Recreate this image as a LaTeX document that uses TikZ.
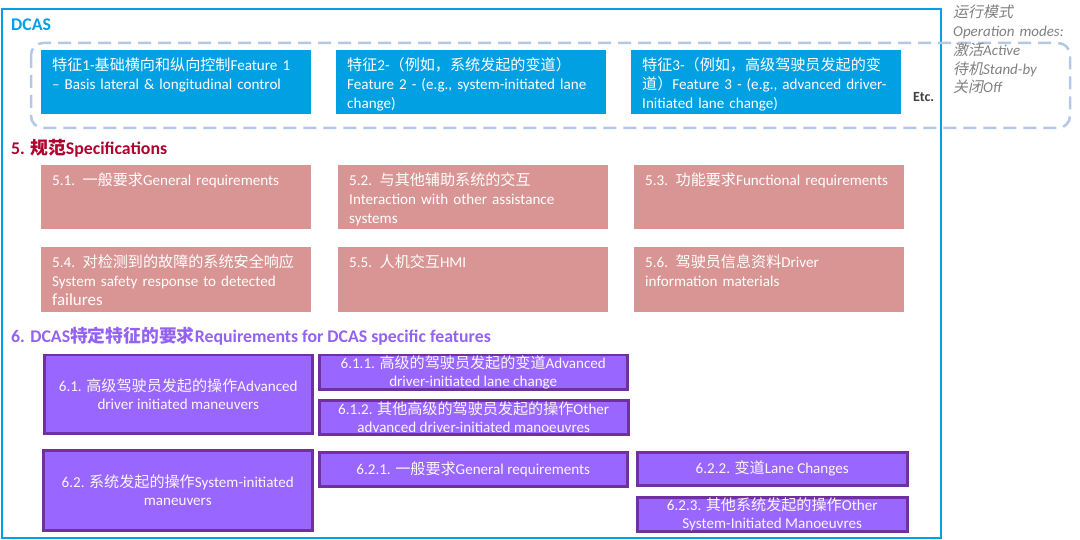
\documentclass[tikz,border=0pt]{standalone}
\usepackage{fontspec}
\setmainfont{Carlito}
\newfontfamily\cjk[AutoFakeSlant=0.2]{Noto Sans CJK SC}
\newcommand{\zh}[1]{{\cjk #1}}
\usepackage{xcolor}
\usetikzlibrary{
    positioning,
    calc
}
\definecolor{DcasBlue}{HTML}{00A0E2}
\definecolor{FrameGray}{HTML}{B4C7E7}
\definecolor{SpecRose}{HTML}{D99594}
\definecolor{SpecRed}{HTML}{B0002D}
\definecolor{ReqViolet}{HTML}{9966FF}
\definecolor{ReqBorder}{HTML}{7030A0}
\definecolor{HeadViolet}{HTML}{9362F0}
\definecolor{ModeGray}{HTML}{808080}
\definecolor{EtcGray}{HTML}{404040}

\tikzset{
    heading/.style={anchor=base west, inner sep=0pt, font=\fontsize{17.8}{20}\selectfont\bfseries},
    featbox/.style={fill=DcasBlue, anchor=north west, inner sep=0pt,
        minimum width=270pt, minimum height=64pt},
    specbox/.style={fill=SpecRose, anchor=north west, inner sep=0pt,
        minimum width=270pt, minimum height=64pt},
    boxtext/.style={anchor=base west, inner sep=0pt, text width=262pt,
        align=left, text=white, font=\fontsize{15.1}{18.7}\selectfont},
    reqbox/.style={draw=ReqBorder, line width=2.5pt, fill=ReqViolet,
        anchor=north west, inner sep=0pt, align=center,
        text=white!95!ReqViolet, font=\fontsize{15.1}{17.5}\selectfont}
}

\begin{document}
\begin{tikzpicture}[x=1pt, y=-1pt]
    \useasboundingbox (0,0) rectangle (1080,540);

    % outer DCAS frame and operation modes frame
    \draw[DcasBlue, line width=2pt] (2,9) rectangle (941,538);
    \draw[FrameGray, line width=2.5pt, dash pattern=on 13pt off 7pt,
        rounded corners=12pt] (31,43) rectangle (1070,128);

    \node[heading, text=DcasBlue] (dcas) at (11,31) {DCAS};

    % features
    \node[featbox] (feat1) at (41,50) {};
    \node[featbox] (feat2) at (336,50) {};
    \node[featbox] (feat3) at (631,50) {};
    \node[boxtext] (feat1txt) at ([shift={(11pt,-21pt)}]feat1.north west)
        {\zh{特征}1-\zh{基础横向和纵向控制}Feature 1\\
         – Basis lateral \& longitudinal control};
    \node[boxtext] (feat2txt) at ([shift={(11pt,-21pt)}]feat2.north west)
        {\zh{特征}2-\zh{（例如，系统发起的变道）}\\
         Feature 2 - (e.g., system-initiated lane\\
         change)};
    \node[boxtext] (feat3txt) at ([shift={(11pt,-21pt)}]feat3.north west)
        {\zh{特征}3-\zh{（例如，高级驾驶员发起的变}\\
         \zh{道）}Feature 3 - (e.g., advanced driver-\\
         Initiated lane change)};
    \node[anchor=base west, inner sep=0pt, text=EtcGray,
        font=\fontsize{14}{16}\selectfont\bfseries] (etc) at (913,102) {Etc.};

    \node[anchor=base west, inner sep=0pt, text width=130pt, align=left,
        text=ModeGray, font=\fontsize{15}{18.7}\selectfont\itshape] (modes) at (953,18)
        {\zh{运行模式}\\
         Operation modes:\\
         \zh{激活}Active\\
         \zh{待机}Stand-by\\
         \zh{关闭}Off};

    % 5. specifications
    \node[heading, text=SpecRed] (spec) at (11,155) {5. \zh{规范}Specifications};

    \node[specbox] (s51) at (41,165) {};
    \node[specbox] (s52) at (338,165) {};
    \node[specbox] (s53) at (634,165) {};
    \node[specbox, minimum height=65pt] (s54) at (41,247) {};
    \node[specbox, minimum height=65pt] (s55) at (338,247) {};
    \node[specbox, minimum height=65pt] (s56) at (634,247) {};

    \node[boxtext] (s51txt) at ([shift={(11pt,-21pt)}]s51.north west)
        {5.1. \zh{一般要求}General requirements};
    \node[boxtext] (s52txt) at ([shift={(11pt,-21pt)}]s52.north west)
        {5.2. \zh{与其他辅助系统的交互}\\
         Interaction with other assistance\\
         systems};
    \node[boxtext] (s53txt) at ([shift={(11pt,-21pt)}]s53.north west)
        {5.3. \zh{功能要求}Functional requirements};
    \node[boxtext] (s54txt) at ([shift={(11pt,-21pt)}]s54.north west)
        {5.4. \zh{对检测到的故障的系统安全响应}\\
         System safety response to detected\\
         {\fontsize{17}{18.7}\selectfont failures}};
    \node[boxtext] (s55txt) at ([shift={(11pt,-21pt)}]s55.north west)
        {5.5. \zh{人机交互}HMI};
    \node[boxtext] (s56txt) at ([shift={(11pt,-21pt)}]s56.north west)
        {5.6. \zh{驾驶员信息资料}Driver\\
         information materials};

    % 6. DCAS specific features
    \node[heading, text=HeadViolet] (req) at (11,343)
        {6. DCAS\zh{特定特征的要求}Requirements for DCAS specific features};

    \node[reqbox, minimum width=268pt, minimum height=78pt] (r61) at (43,354)
        {6.1. \zh{高级驾驶员发起的操作}Advanced\\driver initiated maneuvers};
    \node[reqbox, minimum width=308pt, minimum height=34pt] (r611) at (318,354)
        {6.1.1. \zh{高级的驾驶员发起的变道}Advanced\\driver-initiated lane change};
    \node[reqbox, minimum width=309pt, minimum height=34pt] (r612) at (318,399)
        {6.1.2. \zh{其他高级的驾驶员发起的操作}Other\\advanced driver-initiated manoeuvres};
    \node[reqbox, minimum width=269pt, minimum height=80pt] (r62) at (42,449)
        {6.2. \zh{系统发起的操作}System-initiated\\maneuvers};
    \node[reqbox, minimum width=308pt, minimum height=34pt] (r621) at (318,451)
        {6.2.1. \zh{一般要求}General requirements};
    \node[reqbox, minimum width=270pt, minimum height=33pt] (r622) at (636,451)
        {6.2.2. \zh{变道}Lane Changes};
    \node[reqbox, minimum width=270pt, minimum height=34pt] (r623) at (636,496)
        {6.2.3. \zh{其他系统发起的操作}Other\\System-Initiated Manoeuvres};

\end{tikzpicture}
\end{document}
